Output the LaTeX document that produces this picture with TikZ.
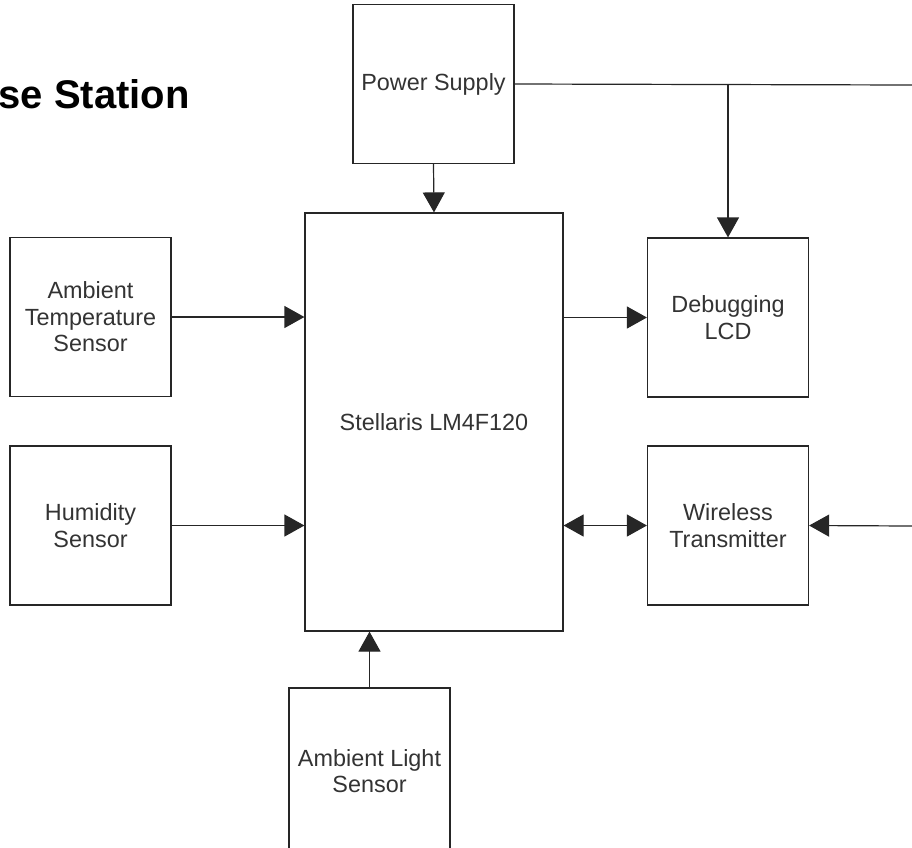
\documentclass[tikz,border=0pt]{standalone}
\usepackage{fontspec}
\setmainfont{Liberation Sans}
\usetikzlibrary{positioning,calc,arrows.meta}

\tikzset{
    blockbox/.style={draw=black!85, line width=1.2pt, minimum width=161pt, minimum height=159pt,
        align=center, text=black!80, font=\fontsize{23.4}{26.5}\selectfont, inner sep=2pt},
    link/.style={draw=black!85, line width=1.2pt},
    tip/.style={-{Triangle[length=20pt,width=22pt]}}
}

\begin{document}
\begin{tikzpicture}[x=1pt, y=-1pt]
    \useasboundingbox (0,0) rectangle (912,847);

    % Title (only its tail shows)
    \node[anchor=base east, inner sep=0pt, font=\fontsize{40}{44}\selectfont\bfseries] (title) at (190,108) {se Station};

    % Blocks
    \node[blockbox] (psu) at (433.5,84) {Power Supply};
    \node[blockbox, minimum width=258pt, minimum height=418pt] (mcu) at (434,422) {Stellaris LM4F120};
    \node[blockbox] (temp) at (90.5,317) {Ambient\\Temperature\\Sensor};
    \node[blockbox] (hum) at (90.5,525.5) {Humidity\\Sensor};
    \node[blockbox, minimum height=166pt] (light) at (369.5,771) {Ambient Light\\Sensor};
    \node[blockbox] (lcd) at (728,317.5) {Debugging\\LCD};
    \node[blockbox] (radio) at (728,525.5) {Wireless\\Transmitter};

    % Free ends at the right edge
    \coordinate (busend) at (912,85);
    \coordinate (radioin) at (912,526);

    % Power bus
    \draw[link] (psu.east) -- (busend);
    \draw[link, tip] (psu.south) -- (mcu.north);
    \draw[link, tip] (psu.east -| lcd.north) -- (lcd.north);

    % Sensors into the controller
    \draw[link, tip] (temp.east) -- (temp.east -| mcu.west);
    \draw[link, tip] (hum.east) -- (hum.east -| mcu.west);
    \draw[link, tip] (light.north) -- (light.north |- mcu.south);

    % Outputs
    \draw[link, tip] (lcd.west -| mcu.east) -- (lcd.west);
    \draw[link, {Triangle[length=20pt,width=22pt]}-{Triangle[length=20pt,width=22pt]}] (radio.west -| mcu.east) -- (radio.west);
    \draw[link, tip] (radioin) -- (radio.east);
\end{tikzpicture}
\end{document}
